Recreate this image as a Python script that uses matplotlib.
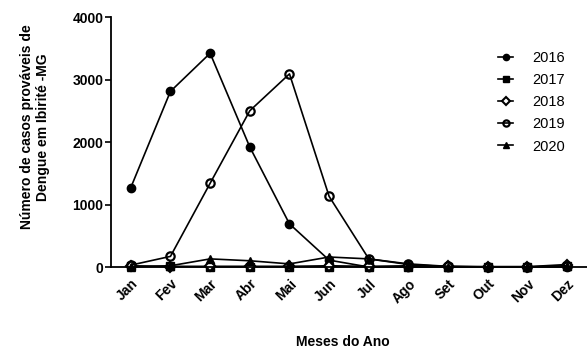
import matplotlib
matplotlib.use("Agg")
import matplotlib.pyplot as plt

months = ["Jan", "Fev", "Mar", "Abr", "Mai", "Jun", "Jul", "Ago", "Set", "Out", "Nov", "Dez"]
cases_2016 = [1270, 2810, 3420, 1920, 690, 110, 0, 0, 0, 0, 0, 0]
cases_2017 = [10, 10, 5, 5, 5, 5, 5, 5, 5, 5, 5, 10]
cases_2018 = [20, 5, 10, 10, 10, 20, 10, 20, 10, 5, 5, 40]
cases_2019 = [30, 170, 1340, 2500, 3090, 1130, 130, 50, 10, 0, 0, 20]
cases_2020 = [0, 20, 130, 100, 50, 160, 130, 40, 5, 0, 0, 10]

plt.rcParams['font.family'] = ['Liberation Sans', 'DejaVu Sans']

fig = plt.figure(figsize=(5.87, 3.47), dpi=100)
ax = fig.add_axes([0.189, 0.2305, 0.811, 0.7205])

x = list(range(len(months)))
common = dict(color='black', lw=1.2, markersize=6, clip_on=False)
ax.plot(x, cases_2016, marker='o', label='2016', **common)
ax.plot(x, cases_2017, marker='s', label='2017', **common)
ax.plot(x, cases_2018, marker='D', markerfacecolor='white', markeredgewidth=1.5,
        label='2018', **{**common, 'markersize': 5})
ax.plot(x, cases_2019, marker='o', markerfacecolor='none', markeredgewidth=1.6, label='2019', **common)
ax.plot(x, cases_2020, marker='^', label='2020', **common)

ax.set_xlim(-0.5, 11.5)
ax.set_ylim(0, 4000)
ax.set_yticks([0, 1000, 2000, 3000, 4000])
ax.set_xticks(x)
ax.set_xticklabels(months, rotation=45, ha='right', rotation_mode='anchor')
ax.tick_params(axis='both', labelsize=10, width=1.2, length=4, direction='out')
ax.tick_params(axis='y', pad=1.5)
for lbl in ax.get_xticklabels() + ax.get_yticklabels():
    lbl.set_fontweight('bold')
ax.tick_params(axis='x', length=0, pad=7)

for s in ['top', 'right']:
    ax.spines[s].set_visible(False)
ax.spines['left'].set_linewidth(1.3)
ax.spines['bottom'].set_linewidth(1.3)

ax.set_ylabel("Número de casos prováveis de\nDengue em Ibirité -MG", fontsize=10, fontweight='bold')
ax.yaxis.set_label_coords(-0.128, 0.56)
ax.set_xlabel("Meses do Ano", fontsize=10, fontweight='bold')
ax.xaxis.set_label_coords(0.487, -0.27)

leg = ax.legend(loc='upper right', bbox_to_anchor=(0.966, 0.888), frameon=False, fontsize=10.5,
                handlelength=1.05, handletextpad=1.3, labelspacing=0.56, markerscale=0.75,
                borderaxespad=0)

fig.savefig("out.png", dpi=100)
